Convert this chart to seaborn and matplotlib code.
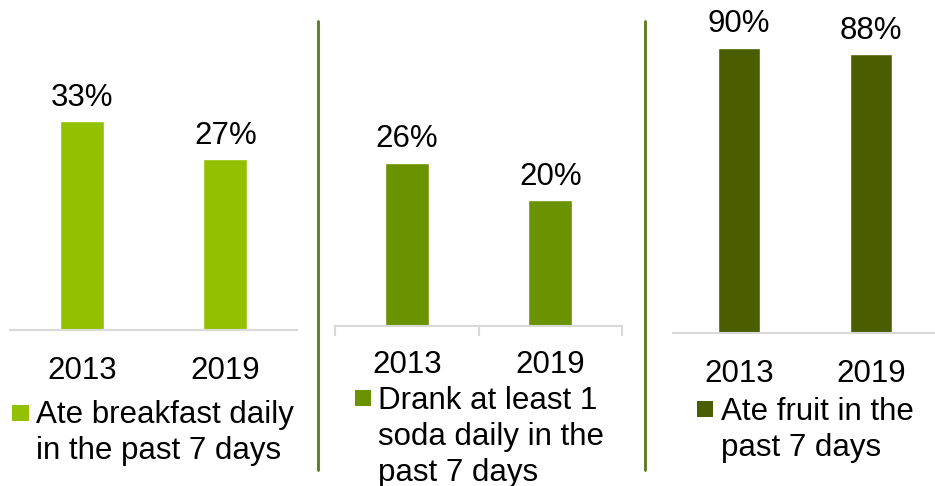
import matplotlib
matplotlib.use("Agg")
import matplotlib.pyplot as plt
import seaborn as sns
import pandas as pd
from matplotlib.patches import Rectangle

# ---- data ----
years = ["2013", "2019"]
breakfast = [33, 27]
soda = [26, 20]
fruit = [90, 88]
legend_labels = [
    "Ate breakfast daily\nin the past 7 days",
    "Drank at least 1\nsoda daily in the\npast 7 days",
    "Ate fruit in the\npast 7 days",
]
colors = ["#93C000", "#6B9200", "#4A5E00"]
sep_color = "#587A1C"
grid_color = "#D9D9D9"

sns.set_theme(style="white")
plt.rcParams["font.family"] = ["Liberation Sans", "DejaVu Sans"]

W, H = 935, 486
FS = 22.5
fig = plt.figure(figsize=(W / 100, H / 100), dpi=100)


def rect(left, bottom_px, width, height):
    return [left / W, (H - bottom_px) / H, width / W, height / H]


panels = [
    dict(vals=breakfast, rect=rect(10, 330, 287, 316), ylim=50, bw=0.31, pad=18.5, ticks=False,
         sq=(12, 405, 17, 16), tx=(36, 422)),
    dict(vals=soda, rect=rect(335, 326, 287, 314), ylim=50, bw=0.31, pad=17, ticks=True,
         sq=(355, 390, 16, 16), tx=(378, 408)),
    dict(vals=fruit, rect=rect(673, 333, 264, 317), ylim=100, bw=0.32, pad=18.5, ticks=False,
         sq=(697, 401, 16, 16), tx=(721, 419)),
]

for i, p in enumerate(panels):
    ax = fig.add_axes(p["rect"])
    df = pd.DataFrame({"year": years, "value": p["vals"]})
    sns.barplot(data=df, x="year", y="value", color=colors[i], saturation=1,
                width=p["bw"], ax=ax)
    ax.set_ylim(0, p["ylim"])
    ax.set_xlim(-0.5, 1.5)
    ax.set_xlabel("")
    ax.set_ylabel("")
    ax.set_yticks([])
    for s in ["top", "left", "right"]:
        ax.spines[s].set_visible(False)
    ax.spines["bottom"].set_color(grid_color)
    ax.spines["bottom"].set_linewidth(1.5)
    ax.tick_params(axis="x", which="major", length=0, pad=p["pad"], labelsize=FS,
                   labelcolor="black")
    if p["ticks"]:
        ax.set_xticks([-0.5, 0.5, 1.5], minor=True)
        ax.tick_params(axis="x", which="minor", length=7, width=1.5, color=grid_color,
                       direction="out", bottom=True)
    for c in ax.containers:
        ax.bar_label(c, labels=[f"{v}%" for v in p["vals"]], padding=6, fontsize=FS,
                     color="black")
    ax.patch.set_alpha(0)

    x0, y0, w, h = p["sq"]
    fig.add_artist(Rectangle((x0 / W, (H - y0 - h) / H), w / W, h / H,
                             transform=fig.transFigure, color=colors[i], lw=0))
    fig.text(p["tx"][0] / W, (H - (p["tx"][1] - 22)) / H, legend_labels[i], ha="left",
             va="top", fontsize=FS, color="black", linespacing=1.25)

# separators
for xs in [318, 645]:
    fig.add_artist(plt.Line2D([xs / W, xs / W], [(H - 470) / H, (H - 21) / H],
                              transform=fig.transFigure, color=sep_color, lw=2))

fig.savefig("out.png", dpi=100)
